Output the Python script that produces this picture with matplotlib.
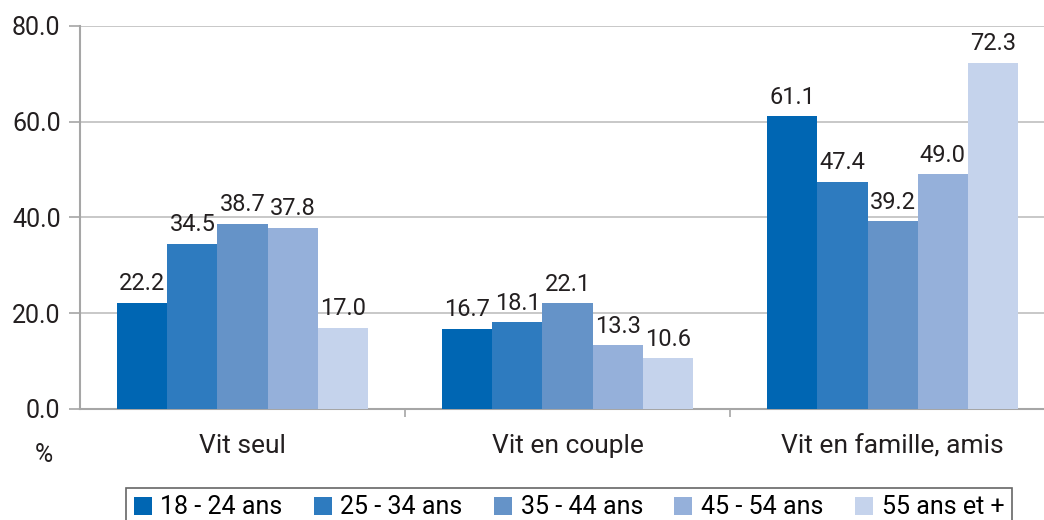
import numpy as np
import matplotlib.pyplot as plt

# data
categories = ["Vit seul", "Vit en couple", "Vit en famille, amis"]
age_groups = ["18 - 24 ans", "25 - 34 ans", "35 - 44 ans", "45 - 54 ans", "55 ans et +"]
v_18_24 = [22.2, 16.7, 61.1]
v_25_34 = [34.5, 18.1, 47.4]
v_35_44 = [38.7, 22.1, 39.2]
v_45_54 = [37.8, 13.3, 49.0]
v_55 = [17.0, 10.6, 72.3]
series = [v_18_24, v_25_34, v_35_44, v_45_54, v_55]
colors = ["#0066b3", "#2e7bbf", "#6593c8", "#95b0da", "#c5d3ec"]

plt.rcParams['font.family'] = ['Roboto', 'DejaVu Sans']
txt = "#231f20"

fig = plt.figure(figsize=(10.44, 5.2), dpi=100)
ax = fig.add_axes([80 / 1044, 1 - 409 / 520, 964 / 1044, 383 / 520])

x = np.arange(len(categories))
w = 0.154
for i, (vals, c, lab) in enumerate(zip(series, colors, age_groups)):
    pos = x + (i - 2) * w
    ax.bar(pos, vals, width=w, color=c, label=lab, zorder=3)
    for p, v in zip(pos, vals):
        ax.text(p, v + 1.6, f"{v:.1f}", ha="center", va="bottom",
                fontsize=17, color=txt)

ax.set_ylim(0, 80)
ax.set_xlim(-0.5, 2.466)
ax.set_yticks([0, 20, 40, 60, 80])
ax.set_yticklabels([f"{t:.1f}" for t in [0, 20, 40, 60, 80]], fontsize=18, color=txt)
ax.yaxis.grid(True, color="#bfbfbf", linewidth=1.2, zorder=0)
ax.tick_params(axis="y", length=8, color="#a6a6a6", width=1.2, pad=6)

ax.set_xticks([0.5, 1.5])
ax.set_xticklabels([])
ax.tick_params(axis="x", length=6, color="#a6a6a6", width=1.2)
for i, c in enumerate(categories):
    ax.text(i, -5.3, c, ha="center", va="top", fontsize=19, color=txt)
ax.text(-0.61, -9.6, "%", ha="center", va="center", fontsize=18, color=txt)

for s in ["top", "right"]:
    ax.spines[s].set_visible(False)
ax.spines["left"].set_color("#a6a6a6")
ax.spines["left"].set_linewidth(1.5)
ax.spines["bottom"].set_color("#a6a6a6")
ax.spines["bottom"].set_linewidth(1.5)

leg = fig.legend(loc="upper left", bbox_to_anchor=(126 / 1044, 1 - 488 / 520),
                 ncol=5, fontsize=18, frameon=True, fancybox=False,
                 handlelength=0.72, handleheight=0.72, handletextpad=0.35,
                 columnspacing=1.25, borderpad=0.3, borderaxespad=0)
leg.get_frame().set_edgecolor("#404040")
leg.get_frame().set_linewidth(1.2)

fig.savefig("out.png", dpi=100)
